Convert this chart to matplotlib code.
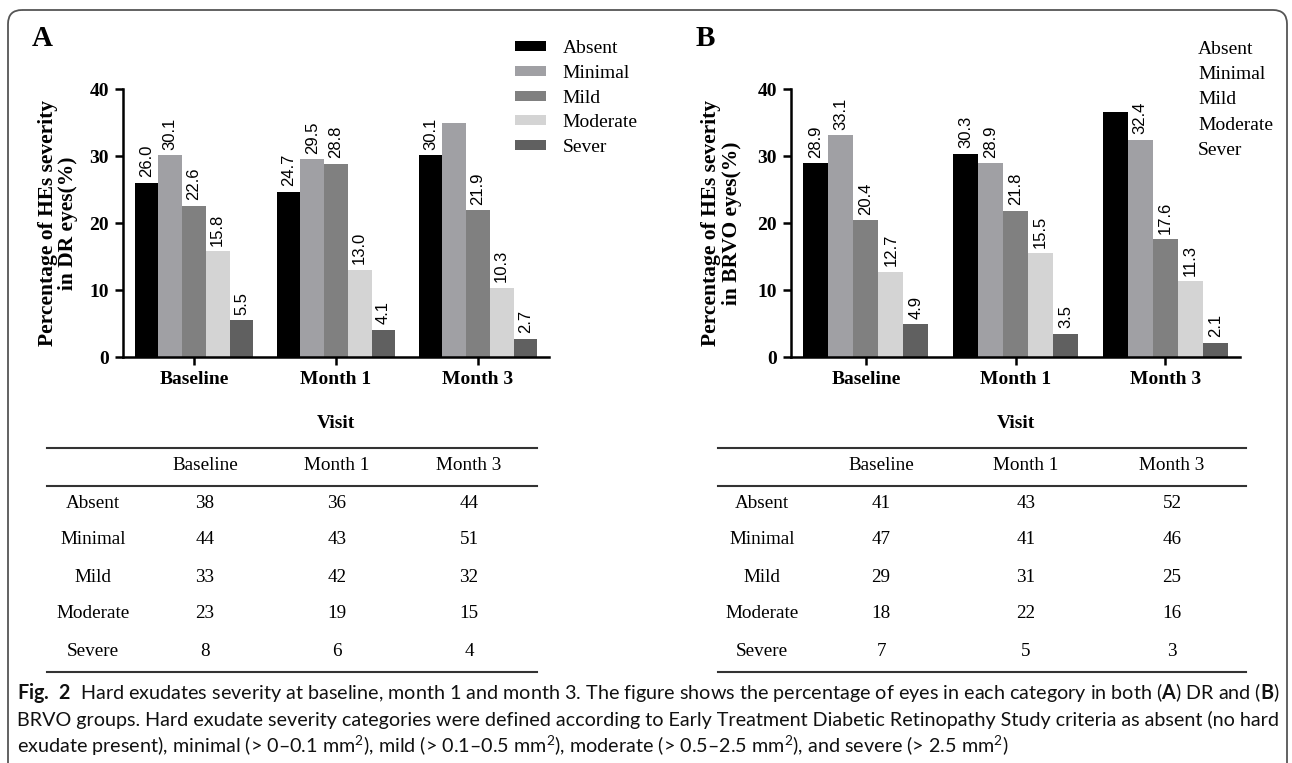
import matplotlib.pyplot as plt
from matplotlib.patches import FancyBboxPatch
import numpy as np

plt.rcParams['mathtext.fontset'] = 'custom'
plt.rcParams['mathtext.rm'] = 'Lato'
plt.rcParams['mathtext.bf'] = 'Lato:bold'

visits = ['Baseline', 'Month 1', 'Month 3']
categories = ['Absent', 'Minimal', 'Mild', 'Moderate', 'Sever']
row_names = ['Absent', 'Minimal', 'Mild', 'Moderate', 'Severe']
colors = ['#000000', '#a0a0a4', '#808080', '#d4d4d4', '#606060']

# percentages (DR group, panel A)
dr_absent = [26.0, 24.7, 30.1]
dr_minimal = [30.1, 29.5, 34.9]
dr_mild = [22.6, 28.8, 21.9]
dr_moderate = [15.8, 13.0, 10.3]
dr_severe = [5.5, 4.1, 2.7]

# percentages (BRVO group, panel B)
brvo_absent = [28.9, 30.3, 36.6]
brvo_minimal = [33.1, 28.9, 32.4]
brvo_mild = [20.4, 21.8, 17.6]
brvo_moderate = [12.7, 15.5, 11.3]
brvo_severe = [4.9, 3.5, 2.1]

# which bars carry a value label in the original
dr_shown = [[1, 1, 1], [1, 1, 0], [1, 1, 1], [1, 1, 1], [1, 1, 1]]
brvo_shown = [[1, 1, 0], [1, 1, 1], [1, 1, 1], [1, 1, 1], [1, 1, 1]]

# eye counts in the tables
dr_counts = [[38, 36, 44], [44, 43, 51], [33, 42, 32], [23, 19, 15], [8, 6, 4]]
brvo_counts = [[41, 43, 52], [47, 41, 46], [29, 31, 25], [18, 22, 16], [7, 5, 3]]

W, H = 1292, 763
fig = plt.figure(figsize=(W / 100, H / 100), dpi=100)

serif = 'Liberation Serif'
sans = 'Liberation Sans'


def px_axes(l, t, r, b):
    return fig.add_axes([l / W, 1 - b / H, (r - l) / W, (b - t) / H])


def draw_panel(ax, series, shown, ylabel):
    x = np.arange(len(visits))
    w = 0.167
    for i, vals in enumerate(series):
        pos = x + (i - 2) * w
        ax.bar(pos, vals, width=w, color=colors[i], label=categories[i])
        for p, v, s in zip(pos, vals, shown[i]):
            if s:
                ax.annotate(f'{v:.1f}', (p, v), xytext=(0, 4), textcoords='offset points',
                            rotation=90, ha='center', va='bottom', fontsize=12, family=sans)
    ax.set_xlim(-0.5, 2.5)
    ax.set_ylim(0, 40)
    ax.set_yticks([0, 10, 20, 30, 40])
    ax.set_xticks(x)
    ax.set_xticklabels(visits)
    for lab in ax.get_xticklabels() + ax.get_yticklabels():
        lab.set_family(serif)
        lab.set_weight('bold')
        lab.set_fontsize(14)
    ax.spines['top'].set_visible(False)
    ax.spines['right'].set_visible(False)
    for s in ['left', 'bottom']:
        ax.spines[s].set_linewidth(1.8)
    ax.tick_params(width=1.8, length=6, pad=4)
    ax.set_ylabel(ylabel, family=serif, weight='bold', fontsize=15.5, linespacing=1.05)
    ax.set_xlabel('Visit', family=serif, weight='bold', fontsize=14)


axA = px_axes(123, 89, 549, 357)
draw_panel(axA, [dr_absent, dr_minimal, dr_mild, dr_moderate, dr_severe], dr_shown,
           'Percentage of HEs severity\nin DR eyes(%)')
axA.yaxis.set_label_coords(-0.105, 0.5)
axA.xaxis.set_label_coords(0.5, -0.215)
axA.legend(loc='upper left', bbox_to_anchor=(515 / W, 1 - 40 / H), bbox_transform=fig.transFigure,
           frameon=False, prop={'family': serif, 'size': 14}, handlelength=1.6,
           handleheight=0.42, handletextpad=0.85, labelspacing=0.4, borderpad=0, borderaxespad=0)

axB = px_axes(791, 89, 1240, 357)
draw_panel(axB, [brvo_absent, brvo_minimal, brvo_mild, brvo_moderate, brvo_severe], brvo_shown,
           'Percentage of HEs severity\nin BRVO eyes(%)')
axB.yaxis.set_label_coords(-0.11, 0.5)
axB.xaxis.set_label_coords(0.5, -0.215)
legB = axB.legend(loc='upper left', bbox_to_anchor=(1198 / W, 1 - 40 / H), bbox_transform=fig.transFigure,
                  frameon=False, prop={'family': serif, 'size': 14}, handlelength=0,
                  handletextpad=0, labelspacing=0.4, borderpad=0, borderaxespad=0)
for h in legB.legend_handles:
    h.set_visible(False)

# overlay in pixel coordinates for tables, panel letters, caption and frame
ov = fig.add_axes([0, 0, 1, 1], zorder=-1)
ov.set_xlim(0, W)
ov.set_ylim(H, 0)
ov.axis('off')

ov.text(42, 38, 'A', family=serif, weight='bold', fontsize=21, ha='center', va='center')
ov.text(705, 38, 'B', family=serif, weight='bold', fontsize=21, ha='center', va='center')


def draw_table(counts, x0, x1, xname, xcols):
    for y in [448, 486, 672]:
        ov.plot([x0, x1], [y, y], color='#333333', lw=1.5)
    for xc, v in zip(xcols, visits):
        ov.text(xc, 466, v, family=serif, fontsize=13.8, ha='center', va='center')
    rows_y = [503, 540, 577, 614, 652]
    for ry, name, vals in zip(rows_y, row_names, counts):
        ov.text(xname, ry, name, family=serif, fontsize=13.8, ha='center', va='center')
        for xc, v in zip(xcols, vals):
            ov.text(xc, ry, str(v), family=serif, fontsize=13.8, ha='center', va='center')


draw_table(dr_counts, 47, 537, 93, [205, 337, 469])
draw_table(brvo_counts, 718, 1246, 762, [881, 1026, 1172])

cap = [
    r'$\mathbf{Fig.\ 2}$  Hard exudates severity at baseline, month 1 and month 3. The figure shows the '
    r'percentage of eyes in each category in both ($\mathbf{A}$) DR and ($\mathbf{B}$)',
    'BRVO groups. Hard exudate severity categories were defined according to Early Treatment '
    'Diabetic Retinopathy Study criteria as absent (no hard',
    r'exudate present), minimal (> 0–0.1 mm$^2$), mild (> 0.1–0.5 mm$^2$), moderate (> 0.5–2.5 mm$^2$), '
    r'and severe (> 2.5 mm$^2$)',
]
for i, line in enumerate(cap):
    ov.text(17, 693 + i * 26.5, line, family='Lato', fontsize=14.2, color='#111111',
            ha='left', va='center')

frame = FancyBboxPatch((8, 10), 1279, 800, boxstyle='round,pad=0,rounding_size=14',
                       fill=False, ec='#555555', lw=1.3, clip_on=False)
ov.add_patch(frame)

fig.savefig('out.png', dpi=100)
